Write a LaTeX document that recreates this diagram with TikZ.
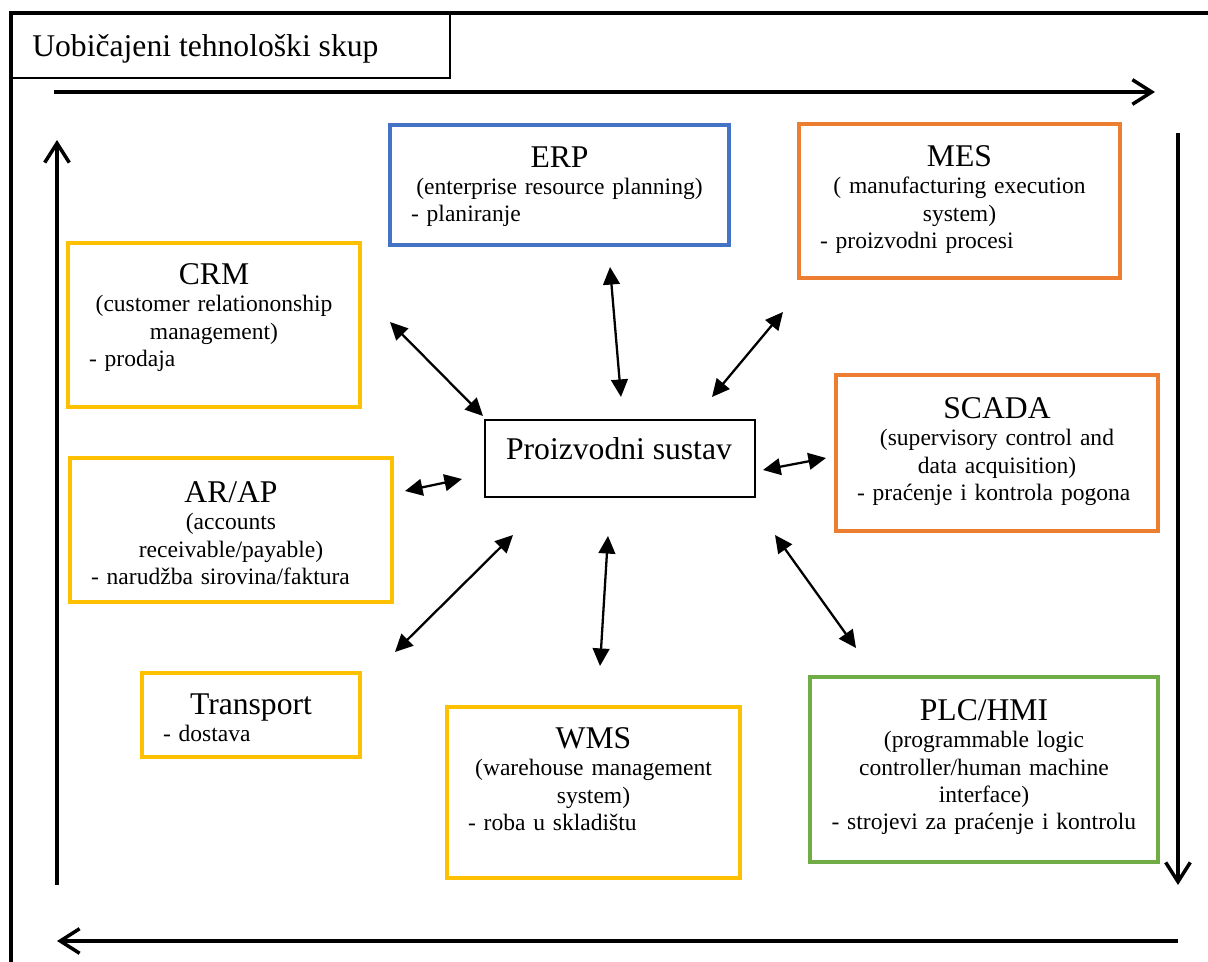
\documentclass[tikz,border=0pt]{standalone}
\usepackage{fontspec}
\setmainfont{Liberation Serif}
\usepackage{tikz}
\usetikzlibrary{arrows.meta}

\definecolor{erpblue}{HTML}{4472C4}
\definecolor{mesorange}{HTML}{ED7D31}
\definecolor{crmyellow}{HTML}{FFC000}
\definecolor{plcgreen}{HTML}{70AD47}
\setlength{\parindent}{0pt}
\newcommand{\boxtitle}{\fontsize{18}{21}\selectfont}
\newcommand{\boxbody}{\fontsize{13.4}{15.6}\selectfont}

\begin{document}
\begin{tikzpicture}[x=0.02cm, y=-0.02cm, line join=miter,
    sysframe/.style={line width=2.1pt},
    boxtext/.style={anchor=north, inner sep=0pt, text width=#1, font=\boxbody},
    link/.style={{Triangle[length=10pt,width=9.5pt]}-{Triangle[length=10pt,width=9.5pt]}, line width=1.3pt},
    flow/.style={-{Straight Barb[length=11pt,width=14pt]}, line width=2pt}]
      \useasboundingbox (0,0) rectangle (1208,962);

      % outer frame and title
      \draw[line width=2.2pt] (11,970) -- (11,13) -- (1215,13);
      \draw[line width=1.2pt] (11,13) rectangle (450,78);
      \node[anchor=base west, inner sep=0pt, font=\boxtitle] (head) at (32,57) {Uobičajeni tehnološki skup};

      % cycle round the edge
      \coordinate (TL) at (54,92);
      \coordinate (TR) at (1155,92);
      \coordinate (RT) at (1178,133);
      \coordinate (RB) at (1178,885);
      \coordinate (BR) at (1178,941);
      \coordinate (BL) at (57,941);
      \coordinate (LB) at (57,885);
      \coordinate (LT) at (57,140);
      \draw[flow] (TL) -- (TR);
      \draw[flow] (RT) -- (RB);
      \draw[flow] (BR) -- (BL);
      \draw[flow] (LB) -- (LT);

      % centre
      \draw[line width=0.8pt] (485,420) rectangle (755,497);
      \node[anchor=base, inner sep=0pt, font=\boxtitle] (sys) at (619,460) {Proizvodni sustav};

      % boxes
      \draw[sysframe, erpblue] (390,125) rectangle (729,245);
      \node[boxtext=5.94cm] (erp) at (559.5,146) {\centering{\boxtitle ERP}\\(enterprise resource planning)\par\raggedright - planiranje};

      \draw[sysframe, mesorange] (799,124) rectangle (1120,278);
      \node[boxtext=5.58cm] (mes) at (959.5,145) {\centering{\boxtitle MES}\\( manufacturing execution\\system)\par\raggedright - proizvodni procesi};

      \draw[sysframe, crmyellow] (68,243) rectangle (360,407);
      \node[boxtext=5.0cm] (crm) at (214,263) {\centering{\boxtitle CRM}\\(customer relationonship\\management)\par\raggedright - prodaja};

      \draw[sysframe, mesorange] (836,375) rectangle (1158,531);
      \node[boxtext=5.6cm] (scada) at (997,397) {\centering{\boxtitle SCADA}\\(supervisory control and\\data acquisition)\par\raggedright - praćenje i kontrola pogona};

      \draw[sysframe, crmyellow] (70,458) rectangle (392,602);
      \node[boxtext=5.6cm] (arap) at (231,481) {\centering{\boxtitle AR/AP}\\(accounts\\receivable/payable)\par\raggedright - narudžba sirovina/faktura};

      \draw[sysframe, crmyellow] (142,673) rectangle (360,757);
      \node[boxtext=3.52cm] (transport) at (251,693) {\centering{\boxtitle Transport}\par\raggedright - dostava};

      \draw[sysframe, crmyellow] (447,707) rectangle (740,878);
      \node[boxtext=5.02cm] (wms) at (593.5,727) {\centering{\boxtitle WMS}\\(warehouse management\\system)\par\raggedright - roba u skladištu};

      \draw[sysframe, plcgreen] (810,677) rectangle (1158,862);
      \node[boxtext=6.1cm] (plc) at (984,699) {\centering{\boxtitle PLC/HMI}\\(programmable logic\\controller/human machine\\interface)\\- strojevi za praćenje i kontrolu};

      % links to the centre
      \coordinate (crmA) at (390,322);
      \coordinate (crmB) at (483,416);
      \coordinate (erpA) at (610,267);
      \coordinate (erpB) at (621,397);
      \coordinate (mesA) at (783,312);
      \coordinate (mesB) at (712,397);
      \coordinate (arapA) at (405,491);
      \coordinate (arapB) at (462,479);
      \coordinate (scadaA) at (826,458);
      \coordinate (scadaB) at (763,470);
      \coordinate (trA) at (395,652);
      \coordinate (trB) at (513,535);
      \coordinate (wmsA) at (600,666);
      \coordinate (wmsB) at (608,536);
      \coordinate (plcA) at (856,648);
      \coordinate (plcB) at (775,535);
      \draw[link] (crmA) -- (crmB);
      \draw[link] (erpA) -- (erpB);
      \draw[link] (mesA) -- (mesB);
      \draw[link] (arapA) -- (arapB);
      \draw[link] (scadaA) -- (scadaB);
      \draw[link] (trA) -- (trB);
      \draw[link] (wmsA) -- (wmsB);
      \draw[link] (plcA) -- (plcB);
\end{tikzpicture}
\end{document}
